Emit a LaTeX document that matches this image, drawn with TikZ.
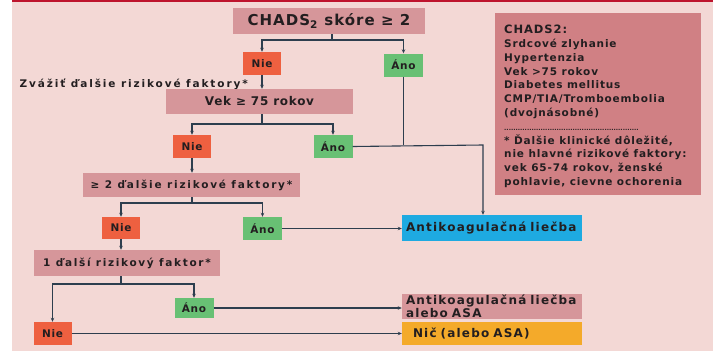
\documentclass[tikz,border=0pt]{standalone}
\usepackage{fontspec}
\setmainfont{DejaVu Sans}
\usetikzlibrary{arrows.meta}
\definecolor{bgpink}{RGB}{243,216,213}
\definecolor{redline}{RGB}{190,20,45}
\definecolor{decfill}{RGB}{214,150,154}
\definecolor{infofill}{RGB}{208,128,132}
\definecolor{niefill}{RGB}{238,96,64}
\definecolor{anofill}{RGB}{104,192,116}
\definecolor{bluefill}{RGB}{30,170,225}
\definecolor{orangefill}{RGB}{244,170,42}
\definecolor{linec}{RGB}{45,62,78}
\definecolor{textc}{RGB}{35,30,32}
\newcommand{\ls}[2]{\fontsize{#1}{#1}\selectfont\addfontfeature{LetterSpace=#2}}
\tikzset{
  box/.style={inner sep=0pt, text=textc, font=\bfseries\ls{10.5}{17}},
  decbox/.style={box, fill=decfill},
  niebox/.style={box, fill=niefill, minimum width=38pt, minimum height=23pt, font=\bfseries\ls{10.5}{6}},
  anobox/.style={box, fill=anofill, minimum width=39pt, minimum height=23pt, font=\bfseries\ls{10.5}{6}},
  conn/.style={draw=linec, line width=1.1pt},
  arr/.style={conn, -{Stealth[length=4pt,width=3.5pt]}}
}
\begin{document}
\begin{tikzpicture}[x=1pt,y=-1pt]
\useasboundingbox (0,0) rectangle (718,351);
\fill[bgpink] (12,0) rectangle (713,351);
\fill[redline] (12,0) rectangle (713,1.6);

% title
\node[decbox, minimum width=192pt, minimum height=26pt, font=\bfseries\ls{15}{7}] (title) at (329,21) {CHADS\textsubscript{2} skóre ≥ 2};
\node[niebox] (nie1) at (262,63.5) {Nie};
\node[anobox] (ano1) at (403.5,65) {Áno};
\node[box, anchor=east, font=\bfseries\ls{10.5}{18}] (zvazit) at (248,84) {Zvážiť ďalšie rizikové faktory*};
\node[decbox, minimum width=187pt, minimum height=25pt, font=\bfseries\ls{12}{6}] (vek) at (259.5,101.5) {Vek ≥ 75 rokov};
\node[niebox] (nie2) at (192,146.5) {Nie};
\node[anobox] (ano2) at (333,146.5) {Áno};
\node[decbox, minimum width=217pt, minimum height=24pt] (dva) at (191.5,185) {≥ 2 ďalšie rizikové faktory*};
\node[niebox, minimum height=22pt] (nie3) at (121,228) {Nie};
\node[anobox] (ano3) at (262.5,228.5) {Áno};
\node[box, fill=bluefill, minimum width=180pt, minimum height=26pt, text width=172pt, align=left, font=\bfseries\ls{12}{10}] (anti) at (492,228) {Antikoagulačná liečba};
\node[decbox, minimum width=186pt, minimum height=26pt, font=\bfseries\ls{10.5}{16}] (jeden) at (127,263) {1 ďalší rizikový faktor*};
\node[anobox, minimum height=20pt] (ano4) at (194,308) {Áno};
\node[niebox] (nie4) at (52.5,333.5) {Nie};
\node[box, fill=decfill, minimum width=180pt, minimum height=25pt, text width=172pt, align=left, font=\bfseries\fontsize{12}{11.5}\selectfont\addfontfeature{LetterSpace=10}] (antiasa) at (492,306.5) {Antikoagulačná liečba\\alebo ASA};
\node[box, fill=orangefill, minimum width=180pt, minimum height=23pt, text width=158pt, align=left, font=\bfseries\ls{12}{10}] (nic) at (492,333.5) {Nič (alebo ASA)};

% info box
\node[box, fill=infofill, minimum width=206pt, minimum height=182pt, anchor=north west] (info) at (495,13) {};
\node[box, anchor=north west, align=left, font=\bfseries\fontsize{10.5}{13.8}\selectfont\addfontfeature{LetterSpace=8}] (infotext) at (504,25)
{{\fontsize{11.5}{13.8}\selectfont CHADS2:}\\
Srdcové zlyhanie\\
Hypertenzia\\
Vek >75 rokov\\
Diabetes mellitus\\
CMP/TIA/Tromboembolia\\
(dvojnásobné)\\
{\fontsize{6}{13.8}\selectfont\addfontfeature{LetterSpace=0} ...........................................................}\\
* Ďalšie klinické dôležité,\\
nie hlavné rizikové faktory:\\
vek 65-74 rokov, ženské\\
pohlavie, cievne ochorenia};

% connectors
\draw[conn] (title.south -| 332,0) -- (332,40) coordinate (s1);
\draw[arr] (s1) -| (nie1.north);
\draw[arr] (s1) -| (ano1.north);
\draw[arr] (nie1.south) -- (nie1.south |- vek.north);
\draw[conn] (vek.south -| nie1.south) -- (262,124) coordinate (s2);
\draw[arr] (s2) -| (nie2.north);
\draw[arr] (s2) -| (ano2.north);
\draw[arr] (nie2.south) -- (nie2.south |- dva.north);
\draw[conn] (dva.south -| nie2.south) -- (192,203) coordinate (s3);
\draw[arr] (s3) -| (nie3.north);
\draw[arr] (s3) -| (ano3.north);
\draw[arr] (nie3.south) -- (nie3.south |- jeden.north);
\draw[conn] (jeden.south -| nie3.south) -- (121,284) coordinate (s4);
\draw[arr] (s4) -| (nie4.north);
\draw[arr] (s4) -| (ano4.north);
\coordinate (j1) at (483,145);
\draw[conn] (ano1.south) -- (ano1.south |- j1);
\draw[arr] (ano2.east) -- (j1) -- (j1 |- anti.north);
\draw[arr] (ano3.east) -- (ano3.east -| anti.west);
\draw[arr] (ano4.east) -- (ano4.east -| antiasa.west);
\draw[arr] (nie4.east) -- (nie4.east -| nic.west);
\end{tikzpicture}
\end{document}
